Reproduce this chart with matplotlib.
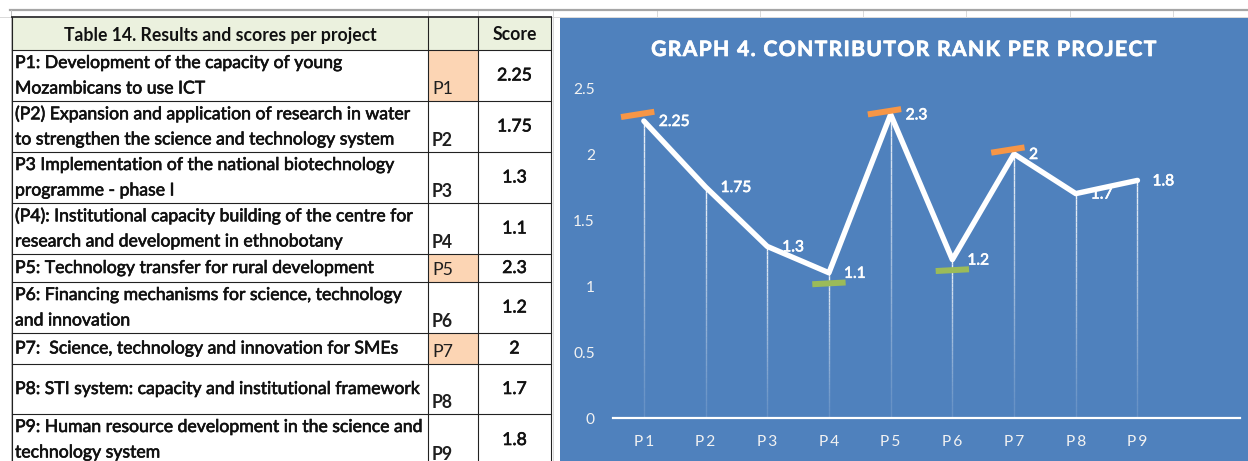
import matplotlib
matplotlib.use("Agg")
import matplotlib.pyplot as plt
import matplotlib.patheffects as pe
from matplotlib.patches import Rectangle
from matplotlib.collections import LineCollection
import numpy as np

# ---------------- data ----------------
projects = ["P1", "P2", "P3", "P4", "P5", "P6", "P7", "P8", "P9"]
scores = [2.25, 1.75, 1.3, 1.1, 2.3, 1.2, 2, 1.7, 1.8]
descriptions = [
    ["P1: Development of the capacity of young", "Mozambicans to use ICT"],
    ["(P2) Expansion and application of research in water",
     "to strengthen the science and technology system"],
    ["P3 Implementation of the national biotechnology", "programme - phase I"],
    ["(P4): Institutional capacity building of the centre for",
     "research and development in ethnobotany"],
    ["P5: Technology transfer for rural development"],
    ["P6: Financing mechanisms for science, technology", "and innovation"],
    ["P7:  Science, technology and innovation for SMEs"],
    ["P8: STI system: capacity and institutional framework"],
    ["P9: Human resource development in the science and", "technology system"],
]
highlighted = ["P1", "P5", "P7"]
table_title = "Table 14. Results and scores per project"
score_header = "Score"
chart_title = "GRAPH 4. CONTRIBUTOR RANK PER PROJECT"
high_marks_proj = ["P1", "P5", "P7"]
high_marks_val = [2.30, 2.32, 2.03]
low_marks_proj = ["P4", "P6"]
low_marks_val = [1.02, 1.12]
y_ticks = [0, 0.5, 1, 1.5, 2, 2.5]

# ---------------- style ----------------
W, H = 1248, 461
FONT = ["Lato", "DejaVu Sans"]
plt.rcParams["font.family"] = FONT
BLUE = "#4F81BD"
ORANGE = "#F79646"
GREEN = "#9BBB59"
PEACH = "#FCD5B4"
HEADER = "#EBF1DE"
PX = 72 / 100  # points per pixel

semi_dark = [pe.withStroke(linewidth=0.45, foreground="#111111")]
semi_white = [pe.withStroke(linewidth=0.45, foreground="white")]
title_fx = [pe.withStroke(linewidth=0.5, foreground="white")]


def sp(s, ch="\u200a"):
    return ch.join(list(s))


fig = plt.figure(figsize=(W / 100, H / 100), dpi=100)
fig.patch.set_facecolor("white")

bg = fig.add_axes([0, 0, 1, 1])
bg.set_xlim(0, W)
bg.set_ylim(H, 0)
bg.axis("off")

# Excel sheet gridlines
for gx in [428, 478, 553, 657, 760, 863, 966, 1070, 1173]:
    bg.plot([gx, gx], [10, H], color="#DADADA", lw=1 * PX, zorder=0)
bg.plot([0, W], [17, 17], color="#DADADA", lw=1 * PX, zorder=0)
bg.plot([10, W], [10, 10], color="#A6A6A6", lw=2.2 * PX, zorder=1)
bg.plot([11, 11], [10, H], color="#BFBFBF", lw=1 * PX, zorder=1)

# ---------------- table ----------------
cx = [12, 428, 478, 551]
row_edges = [17, 50, 101, 152, 203, 254, 282, 333, 364, 414, 466]
tsize = 12.7

bg.add_patch(Rectangle((cx[0], row_edges[0]), cx[3] - cx[0], row_edges[1] - row_edges[0],
                       facecolor=HEADER, edgecolor="none", zorder=2))
bg.add_patch(Rectangle((cx[0], row_edges[1]), cx[3] - cx[0], H - row_edges[1],
                       facecolor="white", edgecolor="none", zorder=2))
for i, p in enumerate(projects):
    if p in highlighted:
        bg.add_patch(Rectangle((cx[1], row_edges[i + 1]), cx[2] - cx[1],
                               row_edges[i + 2] - row_edges[i + 1],
                               facecolor=PEACH, edgecolor="none", zorder=3))

bg.text((cx[0] + cx[1]) / 2, 36, table_title, ha="center", va="center",
        fontsize=tsize, fontweight="bold", color="#111111", zorder=5)
bg.text((cx[2] + cx[3]) / 2, 35, score_header, ha="center", va="center",
        fontsize=tsize, fontweight="bold", color="#111111", zorder=5)

for i, p in enumerate(projects):
    top, bot = row_edges[i + 1], row_edges[i + 2]
    lines = descriptions[i]
    if len(lines) == 2:
        ys = [top + 13, top + 38.5]
    else:
        ys = [(top + bot) / 2]
    for ln, yy in zip(lines, ys):
        bg.text(cx[0] + 3, yy, ln, ha="left", va="center", fontsize=tsize,
                color="#111111", zorder=5, path_effects=semi_dark)
    hl = p in highlighted
    bg.text(cx[1] + 4, bot - 12, p, ha="left", va="center", fontsize=tsize,
            fontweight="normal" if hl else "bold",
            color="#1F1F1F", zorder=5)
    bg.text((cx[2] + cx[3]) / 2, (top + bot) / 2, f"{scores[i]:g}", ha="center",
            va="center", fontsize=tsize, color="#111111", zorder=5,
            path_effects=semi_dark)

# borders
for ry in row_edges[1:-1]:
    bg.plot([cx[0], cx[3]], [ry, ry], color="#222222", lw=1.1 * PX, zorder=6)
bg.plot([cx[0], cx[3]], [row_edges[0], row_edges[0]], color="#444444", lw=2 * PX, zorder=6)
for vx in cx:
    bg.plot([vx, vx], [row_edges[0], H], color="#222222", lw=1.1 * PX, zorder=6)

# ---------------- chart panel ----------------
bg.add_patch(Rectangle((560, 18), W - 560 + 5, H - 18 + 5, facecolor=BLUE,
                       edgecolor="none", zorder=7))

fig.text(905 / W, 1 - 50 / H, sp(chart_title, "\u200a"), ha="center", va="center",
         color="white", fontsize=15.2, fontweight="bold", zorder=10,
         path_effects=title_fx)

ppu_x = 61.7
left_px, right_px = 613, 1240
y0_px, ytop_px = 418, 88
ax = fig.add_axes([left_px / W, (H - y0_px) / H, (right_px - left_px) / W,
                   (y0_px - ytop_px) / H])
ax.set_facecolor("none")
ax.set_xlim(0.5, 0.5 + (right_px - left_px) / ppu_x)
ax.set_ylim(0, 2.5)
for s in ["top", "right", "left"]:
    ax.spines[s].set_visible(False)
ax.spines["bottom"].set_color("white")
ax.spines["bottom"].set_linewidth(2.2 * PX)

xs = list(range(1, len(projects) + 1))
ax.set_xticks(xs)
ax.set_xticklabels([sp(p, "\u2009") for p in projects])
ax.set_yticks(y_ticks)
ax.set_yticklabels([f"{v:g}" for v in y_ticks])
ax.tick_params(axis="x", length=0, pad=12, colors="white", labelsize=11.2)
ax.tick_params(axis="y", length=0, pad=18 * PX, colors="white", labelsize=11.2)
for lab in ax.get_xticklabels() + ax.get_yticklabels():
    lab.set_color("#F2F2F2")

# drop lines, fading towards the axis
nseg = 40
segs, cols = [], []
for x, v in zip(xs, scores):
    edges = np.linspace(0, v, nseg + 1)
    for k in range(nseg):
        segs.append([(x, edges[k]), (x, edges[k + 1])])
        a = 0.12 + 0.8 * ((edges[k] + edges[k + 1]) / 2 / v) ** 1.2
        cols.append((1, 1, 1, a))
ax.add_collection(LineCollection(segs, colors=cols, linewidths=1.4 * PX,
                                 capstyle="butt", zorder=2))
# data labels
for x, v in zip(xs, scores):
    ax.annotate(f"{v:g}", (x, v), xytext=(15 * PX, -1 * PX), textcoords="offset points",
                ha="left", va="center", color="white", fontsize=11.2,
                zorder=3, path_effects=semi_white)
# main line
ax.plot(xs, scores, color="white", lw=5.4 * PX, zorder=4, solid_joinstyle="round",
        solid_capstyle="round")

# high / low markers
half = 0.27
tilt = 0.02
shift_hi = -0.1
for p, v in zip(high_marks_proj, high_marks_val):
    x = projects.index(p) + 1 + shift_hi
    ax.plot([x - half, x + half], [v - tilt, v + tilt], color=ORANGE, lw=6 * PX,
            solid_capstyle="butt", zorder=5, clip_on=False)
for p, v in zip(low_marks_proj, low_marks_val):
    x = projects.index(p) + 1
    ax.plot([x - half, x + half], [v - tilt / 3, v + tilt / 3], color=GREEN, lw=6 * PX,
            solid_capstyle="butt", zorder=5, clip_on=False)

fig.savefig("out.png", dpi=100)
